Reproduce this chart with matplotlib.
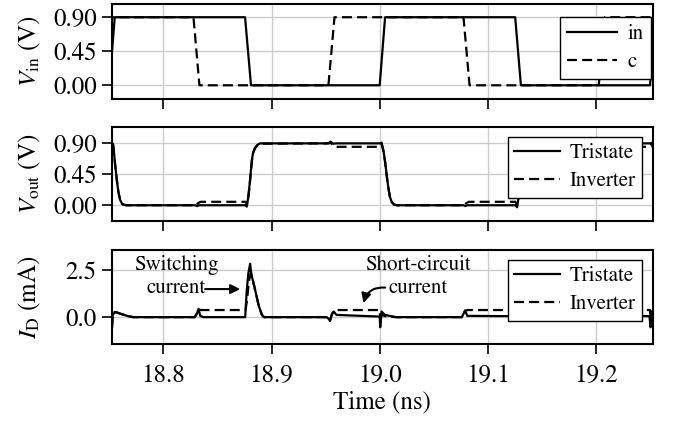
import matplotlib
matplotlib.use("Agg")
import matplotlib.pyplot as plt

plt.rcParams["font.family"] = "serif"
plt.rcParams["font.serif"] = ["STIXGeneral"]
plt.rcParams["mathtext.fontset"] = "stix"
plt.rcParams["font.size"] = 18

# input voltages (ns, V)
t_in = [18.750, 18.755, 18.8755, 18.881, 19.000, 19.005, 19.1253, 19.1306, 19.250, 19.255]
v_in = [0.0, 0.9, 0.9, 0.0, 0.0, 0.9, 0.9, 0.0, 0.0, 0.9]
t_c = [18.745, 18.8278, 18.8333, 18.9526, 18.9582, 19.0775, 19.0831, 19.2026, 19.2082, 19.26]
v_c = [0.9, 0.9, 0.0, 0.0, 0.9, 0.9, 0.0, 0.0, 0.9, 0.9]

# output voltage, tristate
t_out_tri = [18.7525, 18.7535, 18.7553, 18.7568, 18.7583, 18.7599, 18.7620, 18.7655,
             18.8295, 18.8310, 18.8330, 18.8760, 18.8771, 18.8783, 18.8795, 18.8807,
             18.8818, 18.8830, 18.8848, 18.8871, 18.8894, 18.9526, 18.9545, 18.9570,
             18.9600, 19.0010, 19.0017, 19.0034, 19.0048, 19.0064, 19.0079, 19.0095,
             19.0111, 19.0132, 19.0157, 19.0775, 19.0790, 19.0810, 19.1255, 19.1271,
             19.1283, 19.1295, 19.1307, 19.1318, 19.1330, 19.1348, 19.1371, 19.1394,
             19.2026, 19.2045, 19.2070, 19.2100, 19.2510, 19.2517, 19.2534]
v_out_tri = [0.90, 0.89, 0.60, 0.38, 0.20, 0.08, 0.015, 0.0,
             0.0, -0.012, 0.0, 0.0, -0.02, 0.10, 0.27, 0.47,
             0.66, 0.77, 0.84, 0.88, 0.90, 0.90, 0.925, 0.895,
             0.90, 0.90, 0.91, 0.80, 0.66, 0.45, 0.27, 0.12,
             0.05, 0.01, 0.0, 0.0, -0.012, 0.0, 0.0, -0.03,
             0.10, 0.27, 0.47, 0.66, 0.77, 0.84, 0.88, 0.90,
             0.90, 0.925, 0.895, 0.90, 0.90, 0.91, 0.80]

# output voltage, inverter
t_out_inv = [18.7525, 18.7535, 18.7553, 18.7568, 18.7583, 18.7599, 18.7620, 18.7655,
             18.8295, 18.8320, 18.8345, 18.8765, 18.8771, 18.8783, 18.8795, 18.8807,
             18.8818, 18.8830, 18.8848, 18.8871, 18.8894, 18.9526, 18.9545, 18.9580,
             18.9610, 18.9990, 19.0010, 19.0017, 19.0034, 19.0048, 19.0064, 19.0079,
             19.0095, 19.0111, 19.0132, 19.0157, 19.0775, 19.0800, 19.0825, 19.1255,
             19.1271, 19.1283, 19.1295, 19.1307, 19.1318, 19.1330, 19.1348, 19.1371,
             19.1394, 19.2026, 19.2045, 19.2080, 19.2110, 19.2490, 19.2510, 19.2517,
             19.2534]
v_out_inv = [0.88, 0.87, 0.60, 0.38, 0.20, 0.08, 0.015, 0.0,
             0.0, 0.03, 0.05, 0.05, 0.0, 0.09, 0.25, 0.45,
             0.64, 0.76, 0.83, 0.875, 0.895, 0.90, 0.91, 0.855,
             0.85, 0.85, 0.89, 0.90, 0.79, 0.65, 0.44, 0.26,
             0.11, 0.045, 0.01, 0.0, 0.0, 0.03, 0.05, 0.05,
             0.0, 0.09, 0.25, 0.45, 0.64, 0.76, 0.83, 0.875,
             0.895, 0.90, 0.91, 0.855, 0.85, 0.85, 0.89, 0.90,
             0.79]

# supply current, tristate (mA)
t_id_tri = [18.7525, 18.7531, 18.7550, 18.7569, 18.7615, 18.7676, 18.7722,
            18.8290, 18.8310, 18.8325, 18.8340, 18.8370, 18.8756, 18.8771,
            18.8786, 18.8802, 18.8810, 18.8818, 18.8848, 18.8879, 18.8910,
            18.8930, 18.9510, 18.9526, 18.9540, 18.9555, 18.9575, 18.9600,
            19.0000, 19.0005, 19.0017, 19.0048, 19.0125, 19.0150, 19.0760,
            19.0790, 19.0810, 19.1240, 19.1256, 19.1271, 19.1286, 19.1302,
            19.1310, 19.1318, 19.1348, 19.1379, 19.1410, 19.1430, 19.2010,
            19.2026, 19.2040, 19.2055, 19.2075, 19.2100, 19.2495, 19.2505,
            19.2517]
i_id_tri = [-0.53, 0.12, 0.27, 0.25, 0.16, 0.05, 0.0,
            0.0, 0.20, 0.44, 0.07, 0.0, 0.0, 1.46,
            2.36, 2.85, 2.44, 2.17, 1.46, 0.66, 0.12,
            0.0, 0.0, -0.08, -0.20, 0.10, 0.30, 0.12,
            0.03, -0.54, 0.30, 0.12, 0.03, 0.0, 0.0,
            0.35, 0.07, 0.05, 0.0, 1.46, 2.36, 2.85,
            2.44, 2.17, 1.46, 0.66, 0.12, 0.0, 0.0,
            -0.08, -0.20, 0.10, 0.30, 0.12, 0.05, -0.54,
            0.30]

# supply current, inverter (mA)
t_id_inv = [18.7525, 18.7531, 18.7550, 18.7569, 18.7615, 18.7676, 18.7722,
            18.8290, 18.8310, 18.8325, 18.8345, 18.8760, 18.8775, 18.8790,
            18.8807, 18.8822, 18.8850, 18.8882, 18.8912, 18.8932, 18.9510,
            18.9526, 18.9540, 18.9560, 18.9585, 19.0000, 19.0006, 19.0017,
            19.0048, 19.0150, 19.0760, 19.0790, 19.0815, 19.1255, 19.1275,
            19.1290, 19.1307, 19.1322, 19.1350, 19.1382, 19.1412, 19.1432,
            19.2010, 19.2026, 19.2040, 19.2060, 19.2085, 19.2500, 19.2506,
            19.2517]
i_id_inv = [-0.53, 0.12, 0.27, 0.25, 0.16, 0.05, 0.0,
            0.0, 0.20, 0.40, 0.38, 0.38, 1.00, 1.90,
            2.33, 2.10, 1.40, 0.62, 0.12, 0.0, 0.0,
            -0.08, -0.20, 0.20, 0.38, 0.38, -0.35, 0.15,
            0.05, 0.0, 0.0, 0.35, 0.38, 0.38, 1.00,
            1.90, 2.33, 2.10, 1.40, 0.62, 0.12, 0.0,
            0.0, -0.08, -0.20, 0.20, 0.38, 0.38, -0.35,
            0.15]

x_ticks = [18.8, 18.9, 19.0, 19.1, 19.2]
v_ticks = [0.0, 0.45, 0.90]
i_ticks = [0.0, 2.5]

lw = 1.6
dash = (0, (4.5, 2.3))

fig, axes = plt.subplots(3, 1, figsize=(6.75, 4.24), dpi=100, sharex=True)
fig.subplots_adjust(left=0.166, right=0.967, top=0.9906, bottom=0.188, hspace=0.3)
ax1, ax2, ax3 = axes

ax1.plot(t_in, v_in, color="black", lw=lw, label="in")
ax1.plot(t_c, v_c, color="black", lw=lw, ls=dash, label="c")
ax1.set_ylim(-0.175, 1.075)
ax1.set_yticks(v_ticks)
ax1.set_yticklabels(["0.00", "0.45", "0.90"])
ax1.set_ylabel(r"$V_\mathrm{in}$ (V)", labelpad=7)

ax2.plot(t_out_tri, v_out_tri, color="black", lw=lw, label="Tristate")
ax2.plot(t_out_inv, v_out_inv, color="black", lw=lw, ls=dash, label="Inverter")
ax2.set_ylim(-0.235, 1.14)
ax2.set_yticks(v_ticks)
ax2.set_yticklabels(["0.00", "0.45", "0.90"])
ax2.set_ylabel(r"$V_\mathrm{out}$ (V)", labelpad=7)

ax3.plot(t_id_tri, i_id_tri, color="black", lw=lw, label="Tristate")
ax3.plot(t_id_inv, i_id_inv, color="black", lw=lw, ls=dash, label="Inverter")
ax3.set_ylim(-1.45, 3.6)
ax3.set_yticks(i_ticks)
ax3.set_yticklabels(["0.0", "2.5"])
ax3.set_ylabel(r"$I_\mathrm{D}$ (mA)", labelpad=7)
ax3.set_xlabel("Time (ns)", labelpad=2)
ax3.set_xlim(18.7525, 19.2525)
ax3.set_xticks(x_ticks)
ax3.set_xticklabels(["18.8", "18.9", "19.0", "19.1", "19.2"])

ax3.text(18.8117, 2.18, "Switching\ncurrent", ha="center", va="center",
         fontsize=15, linespacing=1.2)
ax3.annotate("", xy=(18.871, 1.5), xytext=(18.8386, 1.5),
             arrowprops=dict(arrowstyle="-|>", color="black", lw=1.5,
                             shrinkA=0, shrinkB=0, mutation_scale=14))
ax3.text(19.0356, 2.17, "Short-circuit\ncurrent", ha="center", va="center",
         fontsize=15, linespacing=1.2)
ax3.annotate("", xy=(18.985, 0.75), xytext=(19.0051, 1.58),
             arrowprops=dict(arrowstyle="-|>", color="black", lw=1.5,
                             shrinkA=0, shrinkB=0, mutation_scale=14,
                             connectionstyle="arc3,rad=0.4"))

for ax in axes:
    ax.grid(True, color="#cccccc", lw=1.0)
    ax.set_axisbelow(True)
    for s in ax.spines.values():
        s.set_linewidth(1.5)
    ax.tick_params(direction="out", length=7, width=1.2, pad=4, labelsize=18)
    ax.tick_params(axis="x", pad=7)

leg_kw = dict(fancybox=False, framealpha=1, edgecolor="black", fontsize=15,
              borderpad=0.3, handletextpad=0.5, handlelength=2.2, labelspacing=0.4)
l1 = ax1.legend(loc="upper right", bbox_to_anchor=(1.0, 0.885), borderaxespad=0.1,
                **{**leg_kw, "handlelength": 2.4, "borderpad": 0.35})
l2 = ax2.legend(loc="upper right", **leg_kw)
l3 = ax3.legend(loc="upper right", **leg_kw)
for lg in (l1, l2, l3):
    lg.get_frame().set_linewidth(1.0)

fig.align_ylabels(axes)
fig.savefig("out.png", dpi=100)
